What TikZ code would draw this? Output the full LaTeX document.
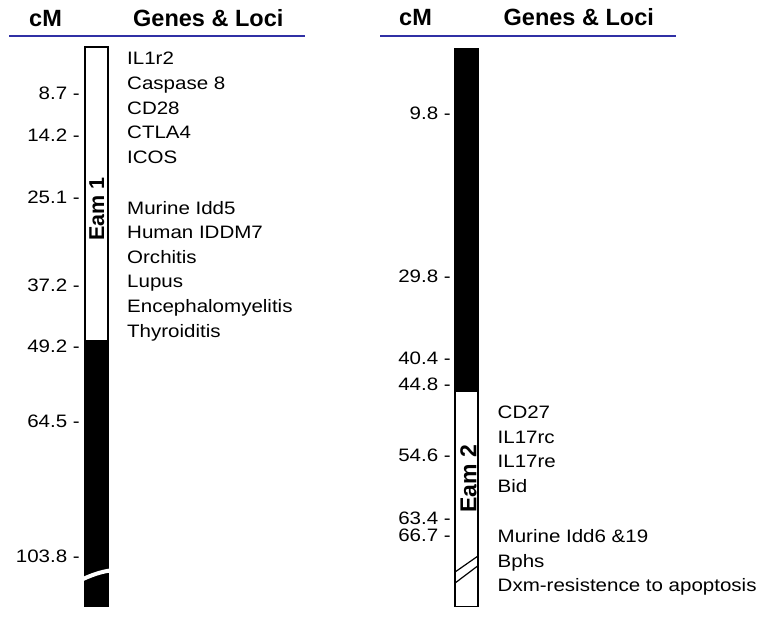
\documentclass[tikz,border=0pt]{standalone}
\usepackage{fontspec}
\setmainfont{Liberation Sans}
\newfontfamily\widefont{Liberation Sans}[FakeStretch=1.14]
\definecolor{hdrblue}{RGB}{48,48,165}
\begin{document}
\begin{tikzpicture}[x=1pt,y=-1pt,
  hdr/.style={anchor=base west,inner sep=0pt,font=\fontsize{23.5}{26}\selectfont\bfseries},
  tick/.style={anchor=base east,inner sep=0pt,font=\widefont\fontsize{18}{20}\selectfont},
  lbl/.style={anchor=base west,inner sep=0pt,font=\widefont\fontsize{18}{20}\selectfont},
  eam/.style={rotate=90,anchor=base,inner sep=0pt,font=\bfseries},
  rule/.style={draw=hdrblue,line width=2pt},
  box/.style={draw=black,line width=1.6pt,fill=white}]
\useasboundingbox (0,0) rectangle (763,618);
% headers
\node[hdr] (cmL) at (29,26.5) {cM};
\node[hdr] (gL) at (133,26.5) {Genes \& Loci};
\node[hdr] (cmR) at (399,26) {cM};
\node[hdr] (gR) at (503.5,26) {Genes \& Loci};
\draw[rule] (9,36.5) -- (305,36.5);
\draw[rule] (380,36) -- (676,36);
% left chromosome
\filldraw[box] (84.8,47) rectangle (107.8,341);
\fill[black] (84,341) rectangle (109,607);
\draw[white,line width=4pt] (83,579) .. controls (92,575) and (100,572) .. (110,570.5);
\node[eam,font=\fontsize{21.5}{23}\selectfont\bfseries] (eam1) at (104,209) {Eam 1};
% right chromosome
\fill[black] (454,48) rectangle (479,391);
\filldraw[box] (455,391) rectangle (478,606.5);
\draw[line width=1.2pt] (455.5,571.7) -- (478,556);
\draw[line width=1.2pt] (455.5,582.7) -- (478,565.7);
\node[eam,font=\fontsize{23}{25}\selectfont\bfseries] (eam2) at (476.3,479) {Eam 2};
% left ticks
\node[tick] (l1) at (80,99.3) {8.7 -};
\node[tick] (l2) at (80,141.7) {14.2 -};
\node[tick] (l3) at (80,203.3) {25.1 -};
\node[tick] (l4) at (80,291) {37.2 -};
\node[tick] (l5) at (80,352) {49.2 -};
\node[tick] (l6) at (80,427.3) {64.5 -};
\node[tick] (l7) at (80,562.7) {103.8 -};
% right ticks
\node[tick] (r1) at (451,119.5) {9.8 -};
\node[tick] (r2) at (451,282.7) {29.8 -};
\node[tick] (r3) at (451,364) {40.4 -};
\node[tick] (r4) at (451,390) {44.8 -};
\node[tick] (r5) at (451,461.7) {54.6 -};
\node[tick] (r6) at (451,524) {63.4 -};
\node[tick] (r7) at (451,541.7) {66.7 -};
% left labels
\node[lbl] (a1) at (127,65) {IL1r2};
\node[lbl] (a2) at (127,89.6) {Caspase 8};
\node[lbl] (a3) at (127,114.2) {CD28};
\node[lbl] (a4) at (127,138.8) {CTLA4};
\node[lbl] (a5) at (127,163.4) {ICOS};
\node[lbl] (a6) at (127,214) {Murine Idd5};
\node[lbl] (a7) at (127,238.6) {Human IDDM7};
\node[lbl] (a8) at (127,263.2) {Orchitis};
\node[lbl] (a9) at (127,287.8) {Lupus};
\node[lbl] (a10) at (127,312.4) {Encephalomyelitis};
\node[lbl] (a11) at (127,337) {Thyroiditis};
% right labels
\node[lbl] (b1) at (497.5,418.3) {CD27};
\node[lbl] (b2) at (497.5,443.1) {IL17rc};
\node[lbl] (b3) at (497.5,467.9) {IL17re};
\node[lbl] (b4) at (497.5,492.7) {Bid};
\node[lbl] (b5) at (497.5,542.3) {Murine Idd6 \&19};
\node[lbl] (b6) at (497.5,567.1) {Bphs};
\node[lbl] (b7) at (497.5,591.9) {Dxm-resistence to apoptosis};
\end{tikzpicture}
\end{document}
